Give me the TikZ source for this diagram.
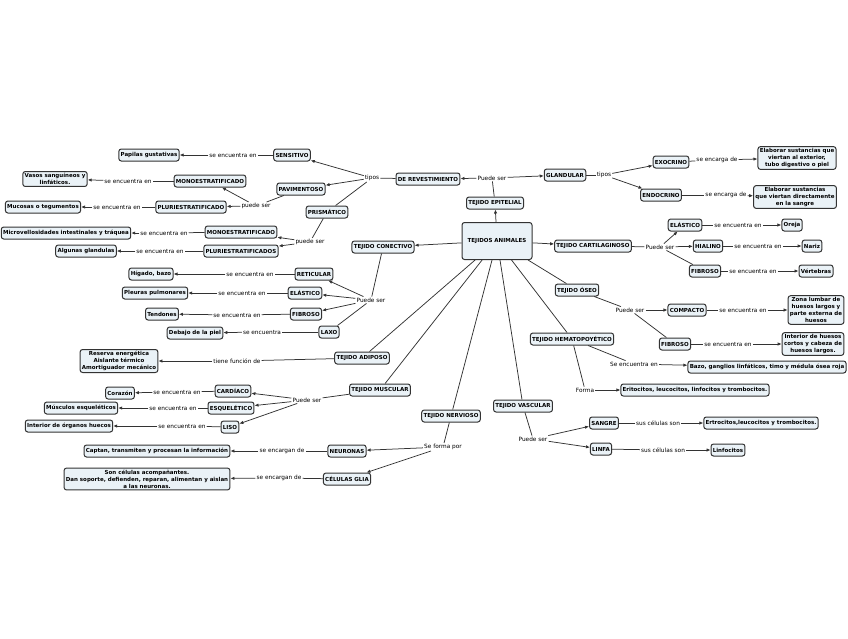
\documentclass[tikz,border=0pt]{standalone}
\usepackage{fontspec}
\setmainfont{DejaVu Sans}
\usetikzlibrary{arrows.meta}
\definecolor{boxfill}{HTML}{EAF2F7}
\definecolor{edge}{HTML}{333333}
\begin{document}
\begin{tikzpicture}[x=1pt,y=-1pt,
 cbox/.style={draw=edge, line width=1pt, fill=boxfill, rounded corners=2.5pt, inner sep=1.8pt, minimum height=12pt, font=\bfseries\fontsize{5.5}{6.9}\selectfont, align=center},
 lbl/.style={inner sep=1pt, font=\fontsize{5.8}{6.5}\selectfont},
 arr/.style={-{Latex[length=4pt,width=3.4pt]}, draw=edge, line width=0.75pt},
 ln/.style={draw=edge, line width=0.75pt}]
\useasboundingbox[fill=white] (0,0) rectangle (848,638);
% epitelial
\node[cbox, minimum width=70pt, minimum height=37pt] (ta) at (497,241) {TEJIDOS ANIMALES};
\node[cbox] (tep) at (495,203) {TEJIDO EPITELIAL};
\node[lbl] (l-ep) at (492,178) {Puede ser};
\node[cbox] (rev) at (428,179) {DE REVESTIMIENTO};
\node[cbox] (gla) at (565,175) {GLANDULAR};
\node[lbl] (l-tip1) at (372,178) {tipos};
\node[cbox] (sen) at (292,155) {SENSITIVO};
\node[lbl] (l-sen) at (233,155) {se encuentra en};
\node[cbox] (pap) at (149,155) {Papilas gustativas};
\node[cbox] (pav) at (301,189) {PAVIMENTOSO};
\node[lbl] (l-pav) at (256,206) {puede ser};
\node[cbox] (mo1) at (210,181) {MONOESTRATIFICADO};
\node[lbl] (l-mo1) at (128,181) {se encuentra en};
\node[cbox] (vas) at (55,179) {Vasos sanguíneos y\\linfáticos.};
\node[cbox] (pl1) at (191,207) {PLURIESTRATIFICADO};
\node[lbl] (l-pl1) at (117,207) {se encuentra en};
\node[cbox] (muc) at (43,207) {Mucosas o tegumentos};
\node[cbox] (pri) at (327,212) {PRISMÁTICO};
\node[lbl] (l-pri) at (310,242) {puede ser};
\node[cbox] (mo2) at (241,232) {MONOESTRATIFICADO};
\node[lbl] (l-mo2) at (164,233) {se encuentra en};
\node[cbox] (mic) at (66,233) {Microvellosidades intestinales y tráquea};
\node[cbox] (pl2) at (241,251) {PLURIESTRATIFICADOS};
\node[lbl] (l-pl2) at (160,251) {se encuentra en};
\node[cbox] (alg) at (86,251) {Algunas glandulas};
\node[lbl] (l-tip2) at (604,175) {tipos};
\node[cbox] (exo) at (671,162) {EXOCRINO};
\node[lbl] (l-exo) at (717,160) {se encarga de};
\node[cbox] (el1) at (797,158) {Elaborar sustancias que\\viertan al exterior,\\tubo digestivo o piel};
\node[cbox] (endo) at (661,195) {ENDOCRINO};
\node[lbl] (l-endo) at (726,195) {se encarga de};
\node[cbox] (el2) at (795,197) {Elaborar sustancias\\que viertan directamente\\en la sangre};
% cartilaginoso
\node[cbox] (car) at (593,246) {TEJIDO CARTILAGINOSO};
\node[lbl] (l-car) at (660,247) {Puede ser};
\node[cbox] (cel) at (685,225) {ELÁSTICO};
\node[lbl] (l-cel) at (738,225) {se encuentra en};
\node[cbox] (ore) at (792,225) {Oreja};
\node[cbox] (hia) at (708,246) {HIALINO};
\node[lbl] (l-hia) at (758,246) {se encuentra en};
\node[cbox] (nar) at (812,246) {Nariz};
\node[cbox] (cfi) at (705,271) {FIBROSO};
\node[lbl] (l-cfi) at (753,271) {se encuentra en};
\node[cbox] (ver) at (816,271) {Vértebras};
% oseo
\node[cbox] (ose) at (577,290) {TEJIDO ÓSEO};
\node[lbl] (l-ose) at (630,310) {Puede ser};
\node[cbox] (com) at (687,310) {COMPACTO};
\node[lbl] (l-com) at (743,310) {se encuentra en};
\node[cbox] (zon) at (816,310) {Zona lumbar de\\huesos largos y\\parte externa de\\huesos};
\node[cbox] (ofi) at (675,344) {FIBROSO};
\node[lbl] (l-ofi) at (728,344) {se encuentra en};
\node[cbox] (int) at (813,344) {Interior de huesos\\cortos y cabeza de\\huesos largos.};
% hemato
\node[cbox] (hem) at (572,339) {TEJIDO HEMATOPOYÉTICO};
\node[lbl] (l-hem) at (634,364) {Se encuentra en};
\node[cbox] (baz) at (767,367) {Bazo, ganglios linfáticos, timo y médula ósea roja};
\node[lbl] (l-for) at (585,390) {Forma};
\node[cbox] (eri) at (695,390) {Eritocitos, leucocitos, linfocitos y trombocitos.};
% vascular
\node[cbox] (vsc) at (523,406) {TEJIDO VASCULAR};
\node[lbl] (l-vsc) at (533,439) {Puede ser};
\node[cbox] (san) at (604,423) {SANGRE};
\node[lbl] (l-san) at (658,423) {sus células son};
\node[cbox] (ert) at (761,423) {Ertrocitos,leucocitos y trombocitos.};
\node[cbox] (lin) at (601,449) {LINFA};
\node[lbl] (l-lin) at (663,450) {sus células son};
\node[cbox] (lfc) at (728,450) {Linfocitos};
% nervioso
\node[cbox] (ner) at (451,416) {TEJIDO NERVIOSO};
\node[lbl] (l-ner) at (443,447) {Se forma por};
\node[cbox] (neu) at (347,451) {NEURONAS};
\node[lbl] (l-neu) at (282,451) {se encargan de};
\node[cbox] (cap) at (157,451) {Captan, transmiten y procesan la información};
\node[cbox] (gli) at (347,479) {CÉLULAS GLIA};
\node[lbl] (l-gli) at (279,478) {se encargan de};
\node[cbox] (son) at (147,479) {Son células acompañantes.\\Dan soporte, defienden, reparan, alimentan y aislan\\a las neuronas.};
% muscular
\node[cbox] (mus) at (380,390) {TEJIDO MUSCULAR};
\node[lbl] (l-mus) at (307,400) {Puede ser};
\node[cbox] (card) at (233,391) {CARDÍACO};
\node[lbl] (l-card) at (177,392) {se encuentra en};
\node[cbox] (cor) at (120,393) {Corazón};
\node[cbox] (esq) at (231,408) {ESQUELÉTICO};
\node[lbl] (l-esq) at (173,408) {se encuentra en};
\node[cbox] (mes) at (81,408) {Músculos esqueléticos};
\node[cbox] (lis) at (230,427) {LISO};
\node[lbl] (l-lis) at (182,426) {se encuentra en};
\node[cbox] (ior) at (69,426) {Interior de órganos huecos};
% adiposo
\node[cbox] (adi) at (362,358) {TEJIDO ADIPOSO};
\node[lbl] (l-adi) at (237,361) {tiene función de};
\node[cbox] (res) at (119,361) {Reserva energética\\Aislante térmico\\Amortiguador mecánico};
% conectivo
\node[cbox] (con) at (383,247) {TEJIDO CONECTIVO};
\node[lbl] (l-con) at (371,300) {Puede ser};
\node[cbox] (ret) at (314,274) {RETICULAR};
\node[lbl] (l-ret) at (250,274) {se encuentra en};
\node[cbox] (hig) at (151,274) {Hígado, bazo};
\node[cbox] (kel) at (305,293) {ELÁSTICO};
\node[lbl] (l-kel) at (242,293) {se encuentra en};
\node[cbox] (ple) at (155,293) {Pleuras pulmonares};
\node[cbox] (kfi) at (306,314) {FIBROSO};
\node[lbl] (l-kfi) at (237,315) {se encuentra en};
\node[cbox] (ten) at (162,314) {Tendones};
\node[cbox] (lax) at (329,332) {LAXO};
\node[lbl] (l-lax) at (262,332) {se encuentra};
\node[cbox] (deb) at (195,333) {Debajo de la piel};
% edges epitelial
\draw[arr] (ta) -- (tep);
\draw[ln] (tep) -- (l-ep);
\draw[arr] (l-ep) -- (rev);
\draw[arr] (l-ep) -- (gla);
\draw[ln] (rev) -- (l-tip1);
\draw[arr] (l-tip1) -- (sen);
\draw[arr] (l-tip1) -- (pav);
\draw[ln] (l-tip1) -- (pri);
\draw[ln] (sen) -- (l-sen); \draw[arr] (l-sen) -- (pap);
\draw[ln] (pav) -- (l-pav); \draw[arr] (l-pav) -- (mo1); \draw[arr] (l-pav) -- (pl1);
\draw[ln] (mo1) -- (l-mo1); \draw[arr] (l-mo1) -- (vas);
\draw[ln] (pl1) -- (l-pl1); \draw[arr] (l-pl1) -- (muc);
\draw[ln] (pri) -- (l-pri); \draw[arr] (l-pri) -- (mo2); \draw[arr] (l-pri) -- (pl2);
\draw[ln] (mo2) -- (l-mo2); \draw[arr] (l-mo2) -- (mic);
\draw[ln] (pl2) -- (l-pl2); \draw[arr] (l-pl2) -- (alg);
\draw[ln] (gla) -- (l-tip2); \draw[arr] (l-tip2) -- (exo); \draw[arr] (l-tip2) -- (endo);
\draw[ln] (exo) -- (l-exo); \draw[arr] (l-exo) -- (el1);
\draw[ln] (endo) -- (l-endo); \draw[arr] (l-endo) -- (el2);
% cartilaginoso
\draw[arr] (ta) -- (car);
\draw[ln] (car) -- (l-car); \draw[arr] (l-car) -- (cel); \draw[arr] (l-car) -- (hia); \draw[ln] (l-car) -- (cfi);
\draw[ln] (cel) -- (l-cel); \draw[arr] (l-cel) -- (ore);
\draw[ln] (hia) -- (l-hia); \draw[arr] (l-hia) -- (nar);
\draw[ln] (cfi) -- (l-cfi); \draw[arr] (l-cfi) -- (ver);
% oseo
\draw[ln] (ta) -- (ose); \draw[ln] (ose) -- (l-ose); \draw[arr] (l-ose) -- (com); \draw[ln] (l-ose) -- (ofi);
\draw[ln] (com) -- (l-com); \draw[arr] (l-com) -- (zon);
\draw[ln] (ofi) -- (l-ofi); \draw[arr] (l-ofi) -- (int);
% hemato
\draw[ln] (ta) -- (hem); \draw[ln] (hem) -- (l-hem); \draw[arr] (l-hem) -- (baz);
\draw[ln] (hem) -- (l-for); \draw[arr] (l-for) -- (eri);
% vascular
\draw[ln] (ta) -- (vsc); \draw[ln] (vsc) -- (l-vsc); \draw[arr] (l-vsc) -- (san); \draw[arr] (l-vsc) -- (lin);
\draw[ln] (san) -- (l-san); \draw[arr] (l-san) -- (ert);
\draw[ln] (lin) -- (l-lin); \draw[arr] (l-lin) -- (lfc);
% nervioso
\draw[ln] (ta) -- (ner); \draw[ln] (ner) -- (l-ner); \draw[arr] (l-ner) -- (neu); \draw[arr] (l-ner) -- (gli);
\draw[ln] (neu) -- (l-neu); \draw[arr] (l-neu) -- (cap);
\draw[ln] (gli) -- (l-gli); \draw[arr] (l-gli) -- (son);
% muscular
\draw[ln] (ta) -- (mus); \draw[ln] (mus) -- (l-mus);
\draw[arr] (l-mus) -- (card); \draw[arr] (l-mus) -- (esq); \draw[arr] (l-mus) -- (lis);
\draw[ln] (card) -- (l-card); \draw[arr] (l-card) -- (cor);
\draw[ln] (esq) -- (l-esq); \draw[arr] (l-esq) -- (mes);
\draw[ln] (lis) -- (l-lis); \draw[arr] (l-lis) -- (ior);
% adiposo
\draw[ln] (ta) -- (adi); \draw[ln] (adi) -- (l-adi); \draw[arr] (l-adi) -- (res);
% conectivo
\draw[arr] (ta) -- (con); \draw[ln] (con) -- (l-con);
\draw[arr] (l-con) -- (ret); \draw[arr] (l-con) -- (kel); \draw[arr] (l-con) -- (kfi); \draw[ln] (l-con) -- (lax);
\draw[ln] (ret) -- (l-ret); \draw[arr] (l-ret) -- (hig);
\draw[ln] (kel) -- (l-kel); \draw[arr] (l-kel) -- (ple);
\draw[ln] (kfi) -- (l-kfi); \draw[arr] (l-kfi) -- (ten);
\draw[ln] (lax) -- (l-lax); \draw[arr] (l-lax) -- (deb);
\end{tikzpicture}
\end{document}
